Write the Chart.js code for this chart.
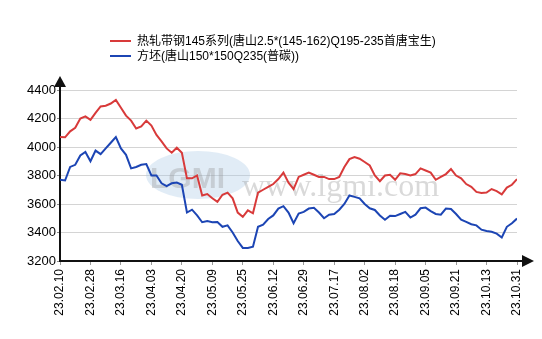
<!DOCTYPE html>
<html>
<head>
<meta charset="utf-8">
<script src="https://cdn.jsdelivr.net/npm/chart.js@4"></script>
<style>
  body { margin: 0; background: #fff; }
  #wrap { position: relative; width: 542px; height: 339px; }
  #legend { position: absolute; left: 110px; top: 34px; font: 12px "Liberation Sans", "Noto Sans CJK SC", sans-serif; color: #000; line-height: 15px; }
  #legend div { white-space: nowrap; }
  #legend span { display: inline-block; width: 21px; height: 2px; margin-right: 6px; vertical-align: middle; position: relative; top: -1px; }
</style>
</head>
<body>
<div id="wrap">
  <canvas id="canvas_grafico" width="542" height="339"></canvas>
  <div id="legend"></div>
</div>
<script>
const tickLabels = ["23.02.10", "23.02.28", "23.03.16", "23.04.03", "23.04.20", "23.05.09", "23.05.25", "23.06.12",
  "23.06.29", "23.07.17", "23.08.02", "23.08.18", "23.09.05", "23.09.21", "23.10.13", "23.10.31"];
const pointsPerTick = 6;

const nombreRojo = "热轧带钢145系列(唐山2.5*(145-162)Q195-235首唐宝生)";
const nombreAzul = "方坯(唐山150*150Q235(普碳))";

const valoresRojo = [4070, 4068, 4110, 4135, 4200, 4215, 4190, 4240, 4285, 4290,
  4305, 4330, 4275, 4220, 4185, 4130, 4145, 4185, 4150, 4085,
  4040, 3990, 3960, 3995, 3960, 3780, 3780, 3800, 3660, 3670,
  3640, 3615, 3665, 3680, 3640, 3540, 3510, 3555, 3535, 3680,
  3700, 3720, 3740, 3775, 3820, 3750, 3705, 3790, 3805, 3820,
  3805, 3790, 3790, 3775, 3775, 3790, 3860, 3915, 3930, 3918,
  3895, 3870, 3800, 3760, 3800, 3805, 3770, 3815, 3810, 3800,
  3810, 3850, 3835, 3820, 3770, 3790, 3810, 3845, 3800, 3780,
  3740, 3720, 3685, 3678, 3680, 3705, 3690, 3668, 3715, 3735, 3775];

const valoresAzul = [3770, 3765, 3860, 3875, 3940, 3965, 3900, 3975, 3950, 3990,
  4030, 4070, 3990, 3945, 3850, 3860, 3875, 3880, 3800, 3800,
  3745, 3725, 3745, 3750, 3735, 3540, 3560, 3520, 3472, 3480,
  3472, 3474, 3440, 3450, 3400, 3340, 3292, 3292, 3300, 3440,
  3455, 3495, 3520, 3568, 3585, 3540, 3465, 3533, 3545, 3568,
  3573, 3540, 3500, 3525, 3530, 3560, 3600, 3660, 3650, 3640,
  3600, 3570, 3558, 3520, 3490, 3517, 3515, 3530, 3545, 3505,
  3525, 3570, 3575, 3550, 3530, 3525, 3568, 3565, 3530, 3490,
  3475, 3458, 3450, 3420, 3410, 3405, 3392, 3365, 3440, 3465, 3498];

const rojo = "#d83a3a";
const azul = "#1c45b4";

// leyenda en html
document.getElementById("legend").innerHTML = `
  <div><span style="background:${rojo}"></span>${nombreRojo}</div>
  <div><span style="background:${azul}"></span>${nombreAzul}</div>
`;

/* marca de agua y ejes */
const decoracion = {
  id: "decoracion",
  beforeDatasetsDraw(chart) {
    const ctx = chart.ctx;
    ctx.save();
    ctx.fillStyle = "rgba(170,200,230,0.35)";
    ctx.beginPath();
    ctx.ellipse(198, 175, 52, 24, 0, 0, Math.PI * 2);
    ctx.fill();
    ctx.font = "bold 30px 'Liberation Sans'";
    ctx.fillStyle = "rgba(150,150,150,0.35)";
    ctx.fillText("LGMI", 150, 188);
    ctx.font = "32px 'Liberation Serif'";
    ctx.fillStyle = "rgba(160,160,160,0.4)";
    ctx.fillText("www.lgmi.com", 242, 196);
    ctx.restore();

    ctx.save();
    ctx.fillStyle = "#111111";
    ctx.fillRect(59, 84, 2, 178);
    ctx.fillRect(59, 260, 465, 2);
    ctx.beginPath();
    ctx.moveTo(60, 76);
    ctx.lineTo(54, 87);
    ctx.lineTo(66, 87);
    ctx.closePath();
    ctx.fill();
    ctx.beginPath();
    ctx.moveTo(534, 261);
    ctx.lineTo(522, 255);
    ctx.lineTo(522, 267);
    ctx.closePath();
    ctx.fill();
    ctx.restore();
  }
};

function renderGrafico() {
  const config = {
    type: "line",
    data: {
      datasets: [
        {
          label: nombreRojo,
          borderColor: rojo,
          data: valoresRojo.map((v, i) => ({ x: i, y: v })),
        },
        {
          label: nombreAzul,
          borderColor: azul,
          data: valoresAzul.map((v, i) => ({ x: i, y: v })),
        }
      ],
    },
    options: {
      responsive: false,
      animation: false,
      devicePixelRatio: 1,
      layout: { padding: { top: 90, right: 25, left: 0, bottom: 0 } },
      elements: {
        point: { radius: 0 },
        line: { borderWidth: 2, tension: 0 }
      },
      plugins: { legend: { display: false }, tooltip: { enabled: false } },
      scales: {
        x: {
          type: "linear",
          min: 0,
          max: (tickLabels.length - 1) * pointsPerTick,
          afterFit(scale) { scale.height = 78; },
          border: { display: false },
          grid: { drawOnChartArea: false, tickLength: 4, color: "#999" },
          ticks: {
            stepSize: pointsPerTick,
            autoSkip: false,
            minRotation: 90,
            maxRotation: 90,
            padding: 4,
            color: "#000",
            font: { family: "'Liberation Sans'", size: 12 },
            callback: (value) => tickLabels[Math.round(value / pointsPerTick)]
          }
        },
        y: {
          min: 3200,
          max: 4400,
          afterFit(scale) { scale.width = 60; },
          border: { display: false },
          grid: { color: "#d4d4d4", tickColor: "#888", tickLength: 3 },
          ticks: {
            stepSize: 200,
            padding: 1,
            color: "#000",
            font: { family: "'Liberation Sans'", size: 13 },
            callback: (value) => String(value)
          }
        }
      }
    },
    plugins: [decoracion]
  };
  new Chart(document.getElementById("canvas_grafico"), config);
}

renderGrafico();
</script>
</body>
</html>
